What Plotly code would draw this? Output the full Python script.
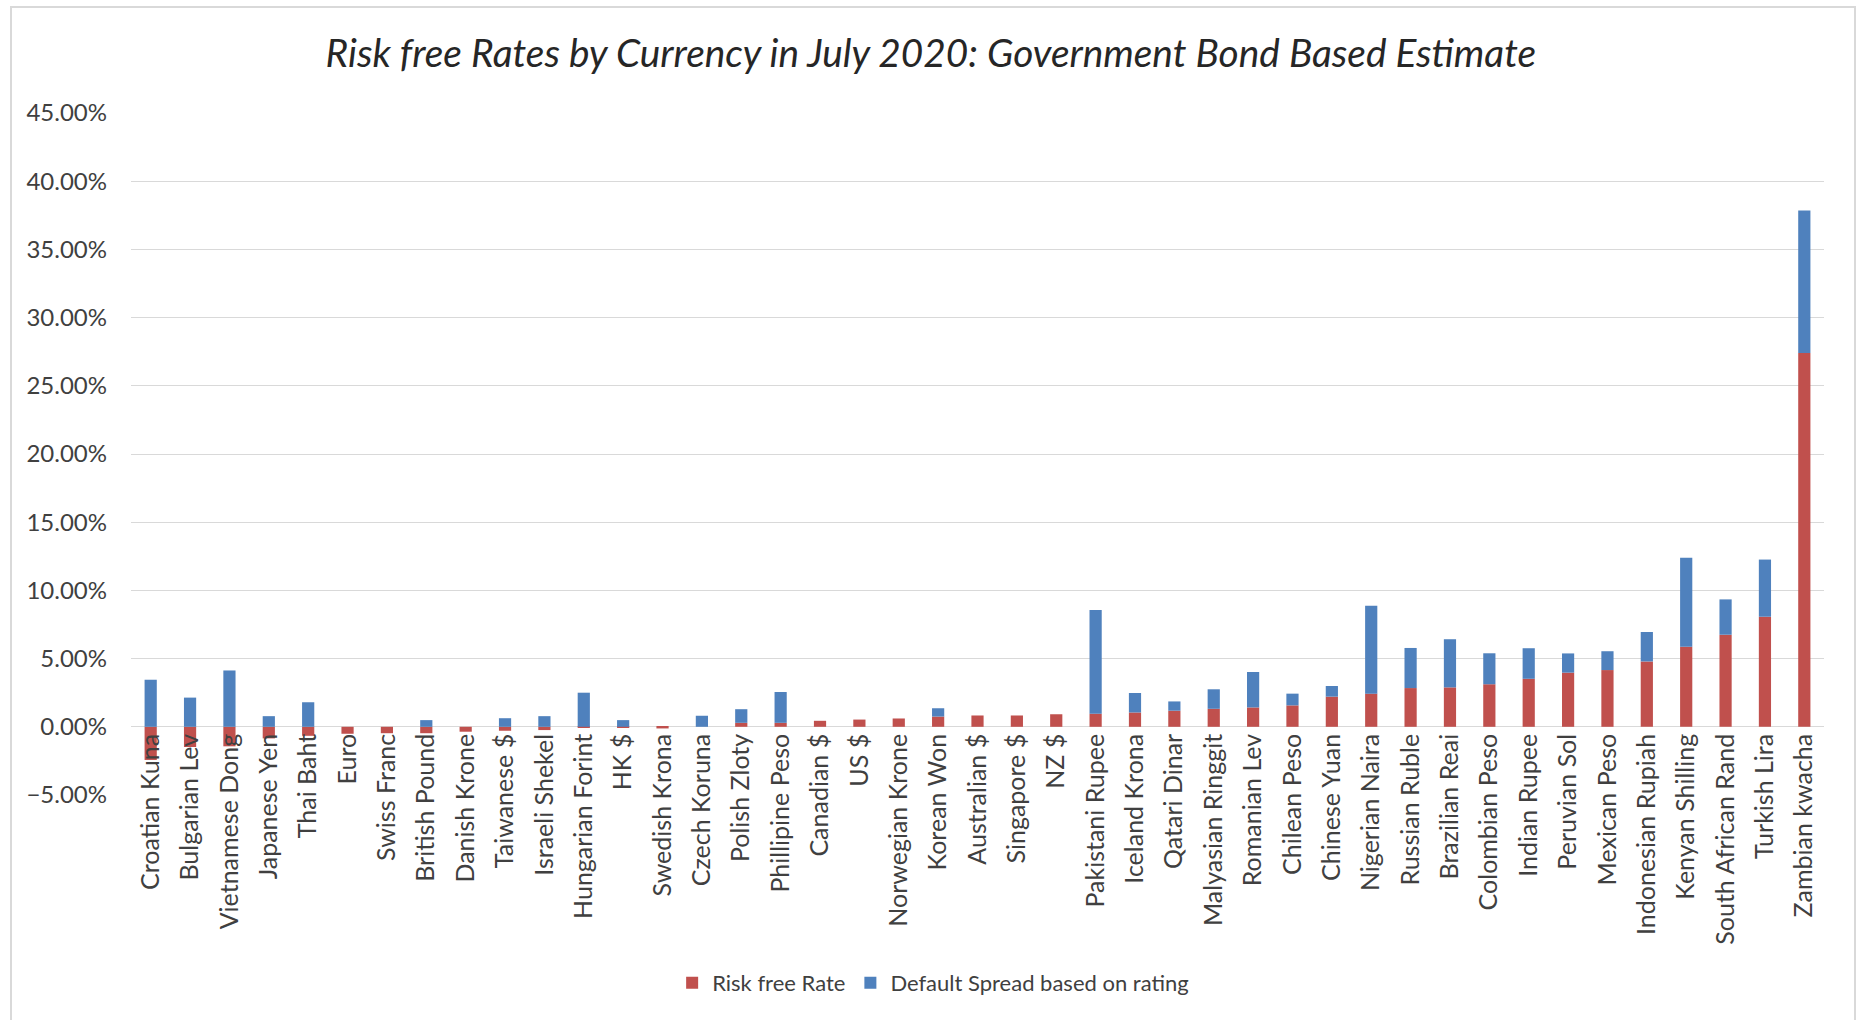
import plotly.graph_objects as go

categories = ["Croatian Kuna", "Bulgarian Lev", "Vietnamese Dong", "Japanese Yen", "Thai Baht",
              "Euro", "Swiss Franc", "British Pound", "Danish Krone", "Taiwanese $",
              "Israeli Shekel", "Hungarian Forint", "HK $", "Swedish Krona", "Czech Koruna",
              "Polish Zloty", "Phillipine Peso", "Canadian $", "US $", "Norwegian Krone",
              "Korean Won", "Australian $", "Singapore $", "NZ $", "Pakistani Rupee",
              "Iceland Krona", "Qatari Dinar", "Malyasian Ringgit", "Romanian Lev", "Chilean Peso",
              "Chinese Yuan", "Nigerian Naira", "Russian Ruble", "Brazilian Reai", "Colombian Peso",
              "Indian Rupee", "Peruvian Sol", "Mexican Peso", "Indonesian Rupiah", "Kenyan Shilling",
              "South African Rand", "Turkish Lira", "Zambian kwacha"]

# values in percent
risk_free_rate = [-2.43, -1.48, -1.43, -0.85, -0.66,
                  -0.51, -0.47, -0.47, -0.36, -0.29,
                  -0.24, -0.05, -0.05, -0.12, 0.0,
                  0.29, 0.29, 0.44, 0.53, 0.61,
                  0.75, 0.83, 0.83, 0.92, 0.96,
                  1.05, 1.18, 1.32, 1.42, 1.57,
                  2.21, 2.43, 2.84, 2.89, 3.12,
                  3.52, 3.97, 4.16, 4.79, 5.87,
                  6.75, 8.07, 27.40]

default_spread = [3.45, 2.14, 4.13, 0.78, 1.80,
                  0.0, 0.0, 0.49, 0.0, 0.63,
                  0.78, 2.50, 0.49, 0.0, 0.81,
                  1.00, 2.26, 0.0, 0.0, 0.0,
                  0.61, 0.0, 0.0, 0.0, 7.60,
                  1.43, 0.68, 1.43, 2.60, 0.86,
                  0.78, 6.44, 2.94, 3.53, 2.27,
                  2.24, 1.41, 1.38, 2.16, 6.53,
                  2.59, 4.19, 10.45]

series_names = ["Risk free Rate", "Default Spread based on rating"]
series_colors = ["#C0504D", "#4F81BD"]

title_text = "Risk free Rates by Currency in July 2020: Government Bond Based Estimate"

FONT = "Lato"
TXT = "#404040"

fig = go.Figure()
for name, vals, col in zip(series_names, [risk_free_rate, default_spread], series_colors):
    fig.add_trace(go.Bar(x=categories, y=vals, name=name,
                         marker=dict(color=col, line=dict(width=0)),
                         hovertemplate="%{x}: %{y:.2f}%<extra>" + name + "</extra>"))

W, H = 1858, 1020
L, R, T, B = 131, 34, 113, 225

fig.update_layout(
    width=W, height=H,
    barmode="relative",
    bargap=0.69,
    paper_bgcolor="white",
    plot_bgcolor="white",
    margin=dict(l=L, r=R, t=T, b=B, pad=0),
    font=dict(family=FONT, color=TXT, size=22),
    title=dict(text=title_text, x=0.501, xanchor="center", xref="container",
               y=1 - 53 / H, yanchor="middle", yref="container",
               font=dict(family=FONT, size=38.8, color="#262626", style="italic")),
    xaxis=dict(type="category", anchor="free", position=0.1,
               showline=False, ticks="", showgrid=False, zeroline=False,
               tickangle=-90, tickfont=dict(family=FONT, size=25, color=TXT),
               ticklabelstandoff=1,
               range=[-0.5, len(categories) - 0.5]),
    yaxis=dict(range=[-5, 45], dtick=5, tick0=0, tickformat=".2f", ticksuffix="%",
               showgrid=True, gridcolor="#D9D9D9", gridwidth=1.3,
               zeroline=True, zerolinecolor="#D9D9D9", zerolinewidth=1.3,
               showline=False, ticks="", ticklabelstandoff=23,
               tickfont=dict(family=FONT, size=24, color=TXT)),
    legend=dict(orientation="h", x=0.4738, xanchor="center", y=-0.2755, yanchor="middle",
                font=dict(family=FONT, size=22, color=TXT), itemwidth=30,
                traceorder="normal", bgcolor="rgba(0,0,0,0)"),
    showlegend=True,
)

# chart-area frame (as in the spreadsheet screenshot)
pw = W - L - R
ph = H - T - B
def px_x(p):
    return (p - L) / pw
def px_y(p):
    return (H - B - p) / ph

fig.add_shape(type="rect", xref="paper", yref="paper",
              x0=px_x(11), x1=px_x(1855), y0=px_y(1040), y1=px_y(7),
              line=dict(color="#D9D9D9", width=2), fillcolor="rgba(0,0,0,0)", layer="below")

fig.write_html("out.html", config={"displayModeBar": False},
               post_script="document.body.style.margin='0px';")
